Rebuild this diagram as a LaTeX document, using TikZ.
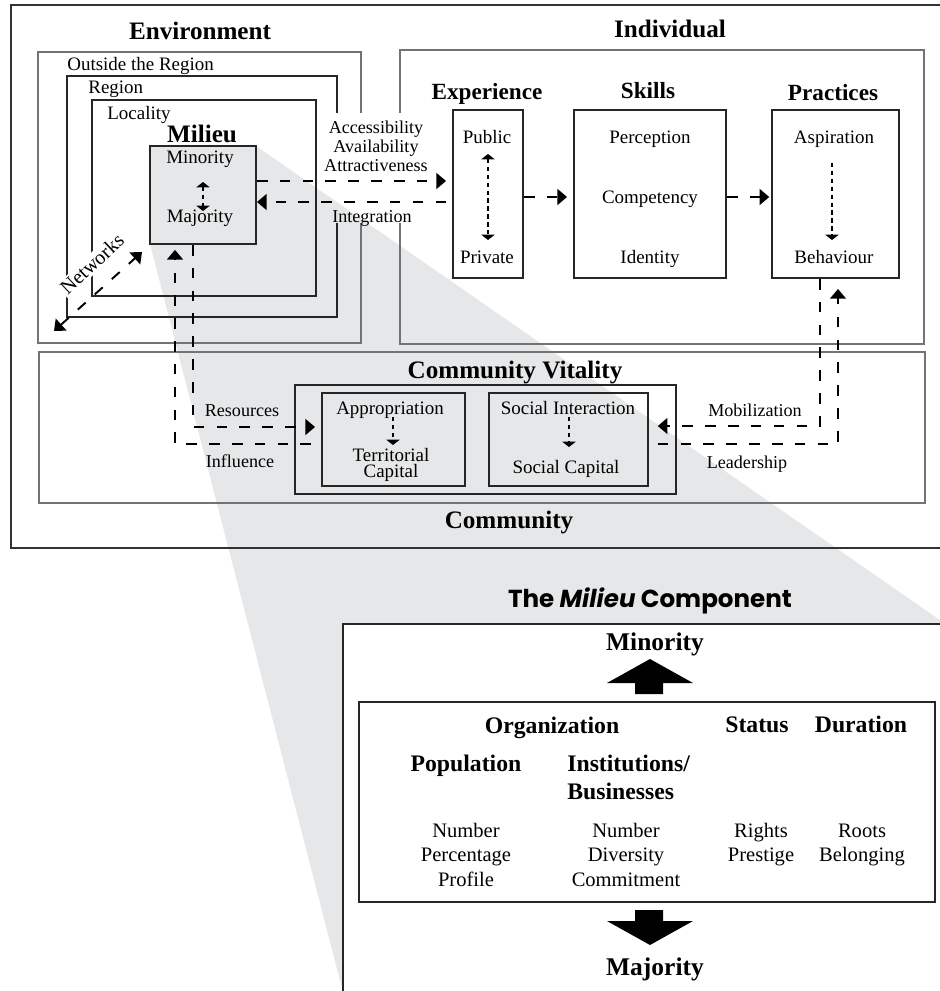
\documentclass[tikz,border=0pt]{standalone}
\usepackage{fontspec}
\setmainfont{Liberation Serif}
\newfontfamily\gothicfont{Poppins}
\usetikzlibrary{positioning, calc, fit, arrows.meta}

\definecolor{wedgegray}{HTML}{E6E7E8}
\tikzset{Small/.tip={Triangle[length=3pt, width=7.5pt]}, Big/.tip={Triangle[length=5.5pt, width=9pt]}}

\newcommand{\bigfont}{\fontsize{14.3}{16}\selectfont\bfseries}
\newcommand{\headfont}{\fontsize{13.2}{15}\selectfont\bfseries}
\newcommand{\keyfont}{\fontsize{13.5}{16}\selectfont\bfseries}
\newcommand{\bodyfont}{\fontsize{10.8}{12}\selectfont}
\newcommand{\notefont}{\fontsize{10.3}{11}\selectfont}
\newcommand{\itemfont}{\fontsize{11.7}{14}\selectfont}

\begin{document}
\begin{tikzpicture}[x=0.02cm, y=-0.02cm,
	box/.style={draw=black!85, line width=1.1pt, inner sep=0pt},
	frame/.style={draw=black!55, line width=1.1pt},
	flow/.style={line width=1.1pt, dash pattern=on 6pt off 7pt, -{Big}},
	link/.style={line width=0.8pt, dash pattern=on 2.5pt off 2pt},
	lbl/.style={inner sep=0pt, anchor=base},
	big/.style={lbl, font=\bigfont},
	head/.style={lbl, font=\headfont},
	key/.style={lbl, font=\keyfont},
	body/.style={lbl, font=\bodyfont},
	note/.style={lbl, font=\notefont},
	item/.style={lbl, font=\itemfont}]
	\useasboundingbox (0,0) rectangle (940,991);
	\clip (0,0) rectangle (940,991);

	% wedge towards the Milieu component
	\fill[wedgegray] (256,146) -- (950,627) -- (950,1000) -- (345,1000) -- (150,244) --cycle;

	\draw[line width=1.1pt, black!80] (11,5) rectangle (960,548);

	% Environment
	\draw[frame] (361,113) -- (361,52) -- (38,52) -- (38,343) -- (361,343) -- (361,223);
	\draw[box] (337,113) -- (337,76) -- (67,76) -- (67,317) -- (337,317) -- (337,223);
	\node[box, fit={(92,100) (316,296)}] (locality) {};
	\node[box, fill=wedgegray, fit={(150,146) (256,244)}] (milieu) {};

	\node[big] (envlbl) at (200,39) {Environment};
	\node[body, anchor=base west] (outlbl) at (67,70) {Outside the Region};
	\node[body, anchor=base west] (reglbl) at (88,93) {Region};
	\node[body, anchor=base west] (loclbl) at (107,119) {Locality};
	\node[big] (millbl) at (202,142) {Milieu};
	\node[body] (mintop) at (200,163) {Minority};
	\node[body] (majtop) at (200,222) {Majority};

	% Individual
	\draw[frame] (400,113) -- (400,50) -- (924,50) -- (924,344) -- (400,344) -- (400,223);
	\node[box, fit={(453,110) (523,278)}] (exper) {};
	\node[box, fit={(574,110) (726,278)}] (skills) {};
	\node[box, fit={(772,110) (899,278)}] (practices) {};

	\node[big] (indlbl) at (670,37) {Individual};
	\node[head] (explbl) at (487,99) {Experience};
	\node[head] (sklbl) at (648,98) {Skills};
	\node[head] (praclbl) at (833,100) {Practices};
	\node[body] (public) at (487,143) {Public};
	\node[body] (private) at (487,263) {Private};
	\node[body] (percep) at (650,143) {Perception};
	\node[body] (compet) at (650,203) {Competency};
	\node[body] (ident) at (650,263) {Identity};
	\node[body] (aspir) at (834,143) {Aspiration};
	\node[body] (behav) at (834,263) {Behaviour};

	\node[note] (access) at (376,133) {Accessibility};
	\node[note] (avail) at (376,152) {Availability};
	\node[note] (attract) at (376,171) {Attractiveness};
	\node[note] (integ) at (372,222) {Integration};

	% Community
	\node[frame, inner sep=0pt, fit={(39,352) (925,503)}] (community) {};
	\node[box, fit={(295,385) (676,494)}] (vitality) {};
	\node[box, fit={(322,393) (465,486)}] (approp) {};
	\node[box, fit={(489,393) (648,486)}] (social) {};

	\node[big] (cvlbl) at (515,378) {Community Vitality};
	\node[body] (applbl) at (390,414) {Appropriation};
	\node[body] (terlbl) at (391,461) {Territorial};
	\node[body] (caplbl) at (391,477) {Capital};
	\node[body] (sillbl) at (568,414) {Social Interaction};
	\node[body] (sclbl) at (566,473) {Social Capital};
	\node[note] (reslbl) at (242,416) {Resources};
	\node[note] (inflbl) at (240,467) {Influence};
	\node[note] (moblbl) at (755,416) {Mobilization};
	\node[note] (leadlbl) at (747,468) {Leadership};
	\node[big] (comlbl) at (509,528) {Community};

	% connectors
	\coordinate (acc) at (0,181);
	\coordinate (intg) at (0,202);
	\coordinate (lvl) at (0,197);
	\coordinate (res) at (193,427);
	\coordinate (inf) at (175,444);
	\coordinate (mob) at (820,426);
	\coordinate (lead) at (838,444);
	\coordinate (netA) at (54,331);
	\coordinate (netB) at (142,252);

	\draw[flow, shorten >=3.4pt] (milieu.east |- acc) -- (exper.west |- acc);
	\draw[flow, shorten <=3.4pt] (exper.west |- intg) -- (milieu.east |- intg);
	\draw[flow, shorten >=3.4pt] (exper.east |- lvl) -- (skills.west |- lvl);
	\draw[flow, shorten >=1pt] (skills.east |- lvl) -- (practices.west |- lvl);
	\draw[flow, shorten >=3.4pt] (milieu.south -| res) |- (approp.west |- res);
	\draw[flow, shorten <=5.7pt, shorten >=2.8pt] (approp.west |- inf) -| (milieu.south -| inf);
	\draw[flow, shorten >=5pt] (practices.south -| mob) |- (social.east |- mob);
	\draw[flow, shorten <=5pt, shorten >=5.7pt] (social.east |- lead) -| (practices.south -| lead);
	\draw[flow, {Big}-{Big}] (netA) -- (netB);
	\node[lbl, font=\fontsize{11.5}{12}\selectfont, anchor=center, rotate=43, fill=white, inner sep=1pt] (netlbl) at (92,264) {Networks};

	\coordinate (mA) at (203,182);
	\coordinate (mB) at (203,211);
	\coordinate (pA) at (488,154);
	\coordinate (pB) at (488,240);
	\coordinate (aA) at (832,163);
	\coordinate (aB) at (832,240);
	\coordinate (tA) at (393,417);
	\coordinate (tB) at (393,445);
	\coordinate (sA) at (569,417);
	\coordinate (sB) at (569,447);
	\draw[link, {Small}-{Small}] (mA) -- (mB);
	\draw[link, {Small}-{Small}] (pA) -- (pB);
	\draw[link, -{Small}] (aA) -- (aB);
	\draw[link, -{Small}] (tA) -- (tB);
	\draw[link, -{Small}] (sA) -- (sB);

	% The Milieu component
	\node[lbl, font=\gothicfont\fontsize{14}{16}\selectfont\bfseries] (ttl) at (650,607) {The \textit{Milieu} Component};
	\node[box, fill=white, fit={(343,624) (960,1010)}] (panel) {};
	\node[box, fit={(359,702) (935,902)}] (factors) {};

	\node[lbl, font=\fontsize{14.5}{16}\selectfont\bfseries] (minbot) at (655,650) {Minority};
	\node[lbl, font=\fontsize{14.5}{16}\selectfont\bfseries] (majbot) at (655,975) {Majority};

	\coordinate (up) at (650,659);
	\coordinate (down) at (650,945);
	\fill (up) -- ++(43,24) -- ++(-30,0) -- ++(0,11) -- ++(-28,0) -- ++(0,-11) -- ++(-28,0) --cycle;
	\fill (down) -- ++(43,-24) -- ++(-30,0) -- ++(0,-11) -- ++(-28,0) -- ++(0,11) -- ++(-28,0) --cycle;

	\node[key] (org) at (552,733) {Organization};
	\node[key] (status) at (757,732) {Status};
	\node[key] (durat) at (861,732) {Duration};
	\node[key] (pop) at (466,771) {Population};
	\node[key, anchor=base west] (inst) at (567,771) {Institutions/};
	\node[key, anchor=base west] (busin) at (567,799) {Businesses};

	\node[item] (popA) at (466,837) {Number};
	\node[item] (popB) at (466,861) {Percentage};
	\node[item] (popC) at (466,886) {Profile};
	\node[item] (instA) at (626,837) {Number};
	\node[item] (instB) at (626,861) {Diversity};
	\node[item] (instC) at (626,886) {Commitment};
	\node[item] (statA) at (761,837) {Rights};
	\node[item] (statB) at (761,861) {Prestige};
	\node[item] (durA) at (862,837) {Roots};
	\node[item] (durB) at (862,861) {Belonging};
\end{tikzpicture}
\end{document}
